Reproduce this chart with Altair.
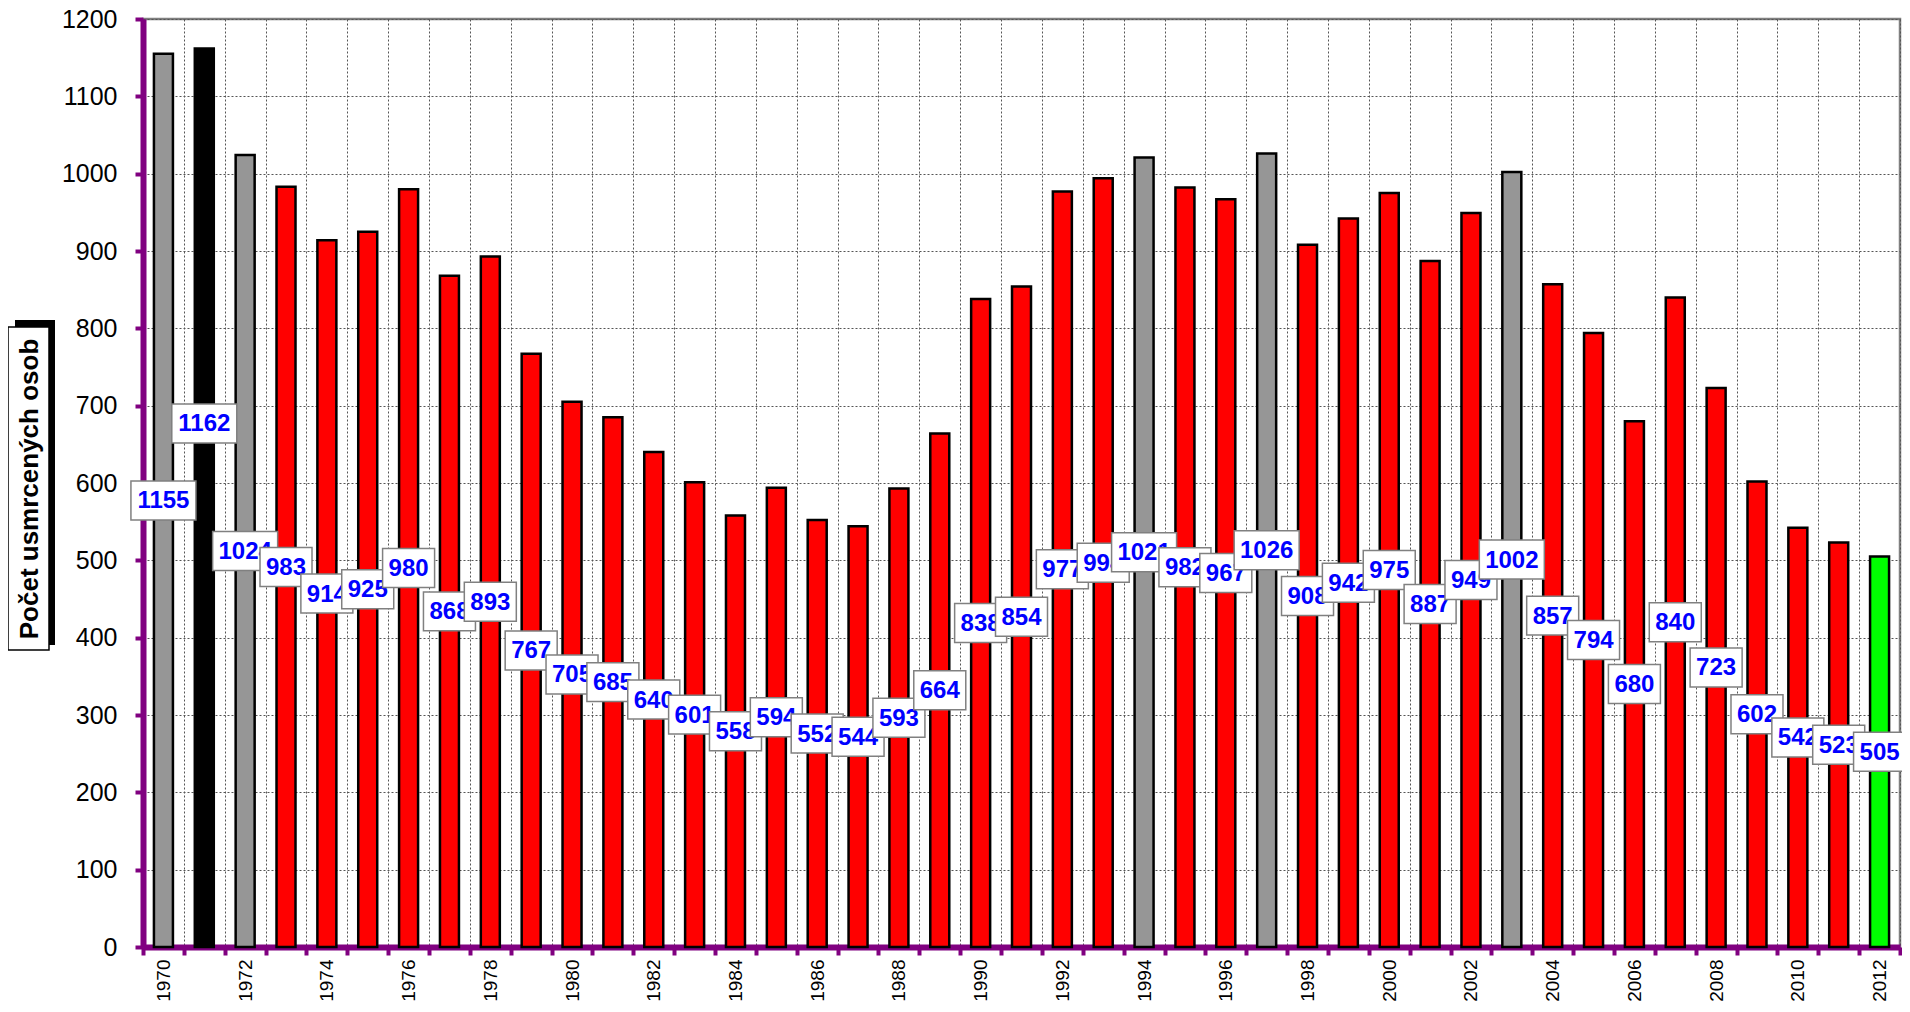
import altair as alt
import pandas as pd

years = list(range(1970, 2013))
values = [1155, 1162, 1024, 983, 914, 925, 980, 868, 893, 767,
          705, 685, 640, 601, 558, 594, 552, 544, 593, 664,
          838, 854, 977, 994, 1021, 982, 967, 1026, 908, 942,
          975, 887, 949, 1002, 857, 794, 680, 840, 723, 602,
          542, 523, 505]
gray_years = [1970, 1972, 1994, 1997, 2003]
black_years = [1971]
green_years = [2012]
label_override = {1971: 677}   # label position moved by hand in the original
y_title = "Počet usmrcených osob"

def cat(y):
    if y in gray_years:
        return "gray"
    if y in black_years:
        return "black"
    if y in green_years:
        return "green"
    return "red"

df = pd.DataFrame({
    "year": years,
    "v": values,
    "cat": [cat(y) for y in years],
    "lp": [label_override.get(y, v / 2) for y, v in zip(years, values)],
})
df["lo"] = df["lp"] - 25.2
df["hi"] = df["lp"] + 25.2
df["txt"] = df["v"].astype(str)

W, H = 1757, 928
PURPLE = "#800080"

x_enc = alt.X(
    "year:O",
    title=None,
    scale=alt.Scale(paddingInner=0, paddingOuter=0),
    axis=alt.Axis(
        domainColor=PURPLE, domainWidth=6,
        tickColor=PURPLE, tickWidth=4, tickSize=8, tickBand="extent",
        grid=True, gridColor="#555555", gridDash=[2, 2], gridWidth=1,
        labelAngle=-90, labelAlign="right", labelBaseline="middle",
        labelFont="Liberation Sans", labelFontSize=19, labelColor="black",
        labelPadding=4,
        labelExpr="datum.value % 2 == 0 ? datum.label : ''",
    ),
)
y_scale = alt.Scale(domain=[0, 1200], nice=False)

base = alt.Chart(df)

bars = base.mark_bar(width=19, stroke="black", strokeWidth=2.5).encode(
    x=x_enc,
    y=alt.Y(
        "v:Q", title=None, scale=y_scale,
        axis=alt.Axis(
            values=list(range(0, 1201, 100)), format="d",
            domainColor=PURPLE, domainWidth=6,
            tickColor=PURPLE, tickWidth=4, tickSize=8,
            grid=True, gridColor="#555555", gridDash=[2, 2], gridWidth=1,
            labelFont="Liberation Sans", labelFontSize=25, labelColor="black",
            labelPadding=18,
        ),
    ),
    fill=alt.Fill(
        "cat:N", legend=None,
        scale=alt.Scale(domain=["gray", "black", "red", "green"],
                        range=["#969696", "#000000", "#FF0000", "#00FF00"]),
    ),
)

layers = [bars]
for y in years:
    sub = base.transform_filter(alt.datum.year == y)
    wbox = 65 if values[years.index(y)] >= 1000 else 52
    box = sub.mark_bar(width=wbox, fill="white", stroke="#808080", strokeWidth=1.5).encode(
        x=x_enc, y=alt.Y("lo:Q", scale=y_scale), y2="hi:Q"
    )
    txt = sub.mark_text(
        font="Liberation Sans", fontSize=24, fontWeight="bold",
        color="#0000FF", align="center", baseline="middle", dy=1,
    ).encode(x=x_enc, y=alt.Y("lp:Q", scale=y_scale), text="txt:N")
    layers += [box, txt]

one = pd.DataFrame({"t": [y_title]})
shadow = alt.Chart(one).mark_rect(fill="black").encode(
    x=alt.value(-128), x2=alt.value(-88), y=alt.value(301), y2=alt.value(626)
)
tbox = alt.Chart(one).mark_rect(fill="white", stroke="black", strokeWidth=1.5).encode(
    x=alt.value(-135), x2=alt.value(-94), y=alt.value(308), y2=alt.value(631)
)
ttext = alt.Chart(one).mark_text(
    font="Liberation Sans", fontSize=26, fontWeight="bold", color="black",
    angle=270, align="center", baseline="middle",
).encode(x=alt.value(-113), y=alt.value(470), text="t:N")

chart = alt.layer(*layers, shadow, tbox, ttext).properties(
    width=W, height=H,
    autosize=alt.AutoSizeParams(type="none"),
    padding={"left": 135, "top": 11, "right": 2, "bottom": 56},
).configure_view(stroke="#808080", strokeWidth=2.5)

chart.save("out.html", embed_options={"renderer": "svg", "actions": False})
